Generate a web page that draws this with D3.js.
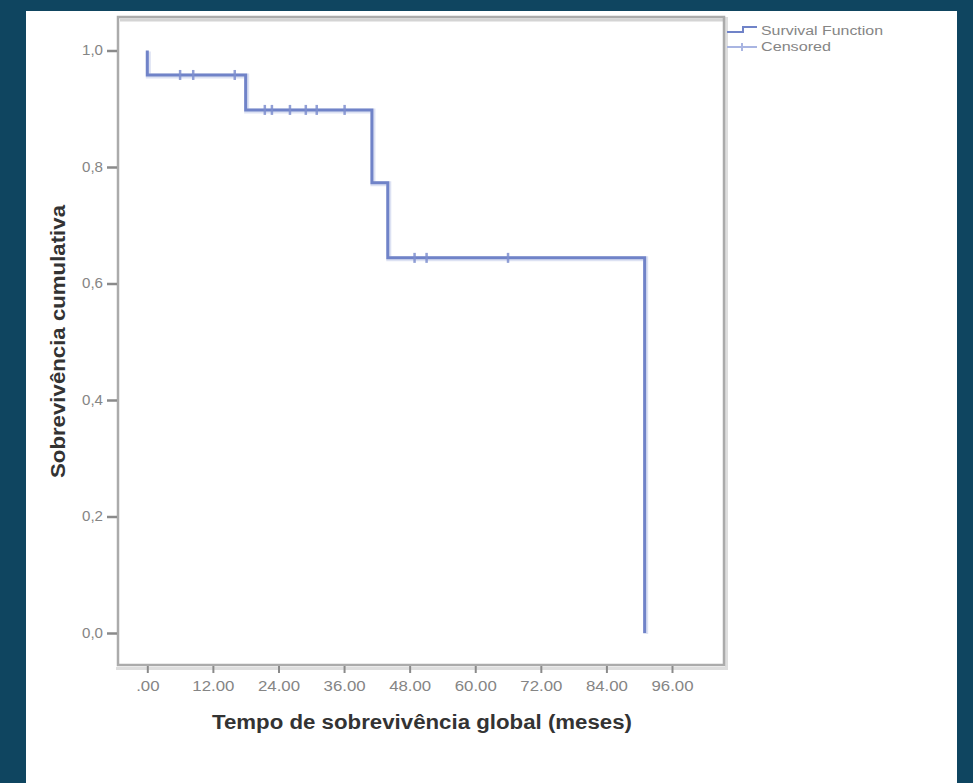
<!DOCTYPE html>
<html>
<head>
<meta charset="utf-8">
<script src="https://cdn.jsdelivr.net/npm/d3@7/dist/d3.min.js"></script>
<style>
  html, body { margin: 0; padding: 0; background: #0f4560; }
  svg { display: block; }
  text { font-family: "Liberation Sans", Arial, sans-serif; }
</style>
</head>
<body>
<svg id="chart" width="973" height="783"></svg>
<script>
// ---- data ----
const xTickValues = [0, 12, 24, 36, 48, 60, 72, 84, 96];
const xTickLabels = [".00", "12.00", "24.00", "36.00", "48.00", "60.00", "72.00", "84.00", "96.00"];
const yTickValues = [0, 0.2, 0.4, 0.6, 0.8, 1.0];
const yTickLabels = ["0,0", "0,2", "0,4", "0,6", "0,8", "1,0"];

// Kaplan-Meier step points (time in months, cumulative survival)
const stepTimes = [0, 0, 18.0, 41.1, 44.0, 91.0];
const stepSurvival = [1.0, 0.958, 0.898, 0.773, 0.644, 0.0];

// Censored observations
const censorTimes = [6.0, 8.4, 16.0, 21.5, 22.8, 26.1, 29.0, 31.0, 36.1, 48.9, 51.1, 66.0];
const censorSurvival = [0.958, 0.958, 0.958, 0.898, 0.898, 0.898, 0.898, 0.898, 0.898, 0.644, 0.644, 0.644];

const legendLabels = ["Survival Function", "Censored"];
const xTitle = "Tempo de sobrevivência global (meses)";
const yTitle = "Sobrevivência cumulativa";

// ---- drawing ----
const svg = d3.select("#chart");
svg.append("rect").attr("x", 0).attr("y", 0).attr("width", 973).attr("height", 783).attr("fill", "#0f4560");
svg.append("rect").attr("x", 26).attr("y", 11).attr("width", 931).attr("height", 772).attr("fill", "#ffffff");

const box = { left: 118, top: 17, right: 724, bottom: 665 };
const x = d3.scaleLinear().domain([0, 96]).range([147.3, 672]);
const y = d3.scaleLinear().domain([0, 1]).range([633, 50.5]);

function fitText(sel, width) {
  sel.each(function () {
    const n = this.getComputedTextLength();
    const w = typeof width === "function" ? width(n) : width;
    d3.select(this).attr("textLength", w).attr("lengthAdjust", "spacingAndGlyphs");
  });
}

// box shadow (lighter) and frame
svg.append("path")
  .attr("d", `M${box.left - 2},${box.bottom + 3.5} H${box.right + 2.5} V${box.top}`)
  .attr("fill", "none").attr("stroke", "#dedede").attr("stroke-width", 3);
svg.append("path")
  .attr("d", `M${box.left + 2},${box.top + 3} H${box.right}`)
  .attr("fill", "none").attr("stroke", "#d4d4d4").attr("stroke-width", 3);
svg.append("rect")
  .attr("x", box.left).attr("y", box.top).attr("width", box.right - box.left).attr("height", box.bottom - box.top)
  .attr("fill", "none").attr("stroke", "#ababab").attr("stroke-width", 2.5);

// x axis
const xAxis = d3.axisBottom(x).tickValues(xTickValues)
  .tickFormat((d, i) => xTickLabels[i]).tickSize(7).tickPadding(8);
const gx = svg.append("g").attr("transform", `translate(0,${box.bottom + 1})`).call(xAxis);
gx.select(".domain").remove();
gx.selectAll(".tick line").attr("stroke", "#8a8a8a").attr("stroke-width", 2);
gx.selectAll(".tick text").attr("fill", "#858585").attr("font-size", 14).attr("dy", "0.72em")
  .call(fitText, n => n * 1.2);

// y axis
const yAxis = d3.axisLeft(y).tickValues(yTickValues)
  .tickFormat((d, i) => yTickLabels[i]).tickSize(10).tickPadding(4);
const gy = svg.append("g").attr("transform", `translate(${box.left - 1},0)`).call(yAxis);
gy.select(".domain").remove();
gy.selectAll(".tick line").attr("stroke", "#8a8a8a").attr("stroke-width", 2.5);
gy.selectAll(".tick text").attr("fill", "#858585").attr("font-size", 14)
  .call(fitText, n => n * 1.08);

// survival curve
const pts = stepTimes.map((t, i) => [t, stepSurvival[i]]);
const line = d3.line().x(d => x(d[0])).y(d => y(d[1])).curve(d3.curveStepAfter);
svg.append("path").datum(pts)
  .attr("d", line).attr("fill", "none")
  .attr("stroke", "#dde2f3").attr("stroke-width", 5).attr("transform", "translate(1,1)");
svg.append("path").datum(pts)
  .attr("d", line).attr("fill", "none")
  .attr("stroke", "#7083c8").attr("stroke-width", 3).attr("stroke-linejoin", "miter");

// censored marks
svg.append("g").selectAll("line").data(censorTimes).join("line")
  .attr("x1", d => x(d)).attr("x2", d => x(d))
  .attr("y1", (d, i) => y(censorSurvival[i]) - 5)
  .attr("y2", (d, i) => y(censorSurvival[i]) + 5)
  .attr("stroke", "#7e8fcf").attr("stroke-width", 2.5).attr("opacity", 0.85);

// legend
const lg = svg.append("g");
lg.append("path").attr("d", "M727,32 H743 V27 H757").attr("fill", "none")
  .attr("stroke", "#7083c8").attr("stroke-width", 2);
lg.append("line").attr("x1", 727).attr("x2", 757).attr("y1", 47).attr("y2", 47)
  .attr("stroke", "#a9b5e2").attr("stroke-width", 2);
lg.append("line").attr("x1", 742).attr("x2", 742).attr("y1", 43).attr("y2", 51)
  .attr("stroke", "#a9b5e2").attr("stroke-width", 2);
lg.selectAll("text").data(legendLabels).join("text")
  .attr("x", 761).attr("y", (d, i) => 35 + i * 16)
  .attr("fill", "#858585").attr("font-size", 12)
  .text(d => d)
  .each(function (d, i) {
    d3.select(this).attr("textLength", i === 0 ? 122 : 70).attr("lengthAdjust", "spacingAndGlyphs");
  });

// axis titles
svg.append("text").attr("x", 422).attr("y", 729).attr("text-anchor", "middle")
  .attr("font-size", 20).attr("font-weight", "bold").attr("fill", "#333333")
  .text(xTitle).attr("textLength", 420).attr("lengthAdjust", "spacingAndGlyphs");
svg.append("text").attr("transform", "translate(65,341.5) rotate(-90)").attr("text-anchor", "middle")
  .attr("font-size", 20).attr("font-weight", "bold").attr("fill", "#333333")
  .text(yTitle).attr("textLength", 273).attr("lengthAdjust", "spacingAndGlyphs");
</script>
</body>
</html>
